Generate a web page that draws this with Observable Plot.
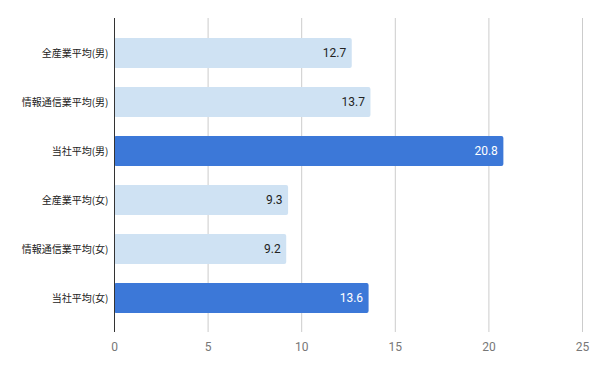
<!DOCTYPE html>
<html><head><meta charset="utf-8">
<script src="https://cdn.jsdelivr.net/npm/d3@7"></script>
<script src="https://cdn.jsdelivr.net/npm/@observablehq/plot@0.6"></script>
<style>body{margin:0;background:#fff}</style>
</head><body><div id="chart"></div>
<script>
const categories = ["全産業平均(男)","情報通信業平均(男)","当社平均(男)","全産業平均(女)","情報通信業平均(女)","当社平均(女)"];
const values = [12.7, 13.7, 20.8, 9.3, 9.2, 13.6];
const isCompany = [false, false, true, false, false, true];
const xTicks = [0, 5, 10, 15, 20, 25];

const data = categories.map((c, i) => ({cat: c, v: values[i], own: isCompany[i]}));

const chart = Plot.plot({
  width: 600, height: 371,
  marginLeft: 114, marginRight: 18, marginTop: 18, marginBottom: 39,
  style: {fontFamily: "Roboto, 'Noto Sans CJK JP', sans-serif", background: "#fff"},
  x: {domain: [0, 25], ticks: xTicks, label: null},
  y: {domain: categories, padding: 0.39, label: null},
  marks: [
    Plot.gridX(xTicks.filter(t => t > 0), {stroke: "#cccccc", strokeOpacity: 1, y1: 0, y2: 0}),
    Plot.ruleX(xTicks.filter(t => t > 0), {stroke: "#cccccc", strokeWidth: 1}),
    Plot.barX(data, {x: "v", y: "cat", fill: d => d.own ? "#3c78d8" : "#cfe2f3", rx: 2}),
    Plot.text(data, {x: "v", y: "cat", text: d => d.v.toFixed(1), textAnchor: "end", dx: -6,
      fill: d => d.own ? "#ffffff" : "#222222", fontSize: 12}),
    Plot.ruleX([0], {stroke: "#333333", strokeWidth: 1}),
    Plot.axisX({ticks: xTicks, tickSize: 0, tickPadding: 10, fontSize: 12, color: "#777777", label: null, fill: "#777777"}),
    Plot.axisY({tickSize: 0, tickPadding: 6, fontSize: 10, fill: "#222222", label: null,
      fontFamily: "'Noto Sans CJK JP', sans-serif"})
  ]
});
document.getElementById("chart").appendChild(chart);
</script>
</body></html>
